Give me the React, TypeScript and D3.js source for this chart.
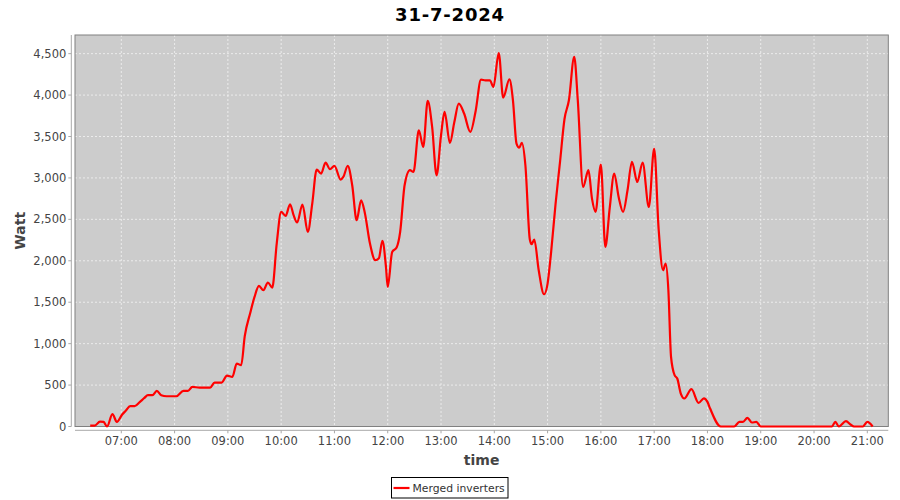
import React from "react";
import * as d3 from "d3";

const chartTitle = "31-7-2024";
const seriesName = "Merged inverters";
const yLabel = "Watt";
const xLabel = "time";

const times: string[] = [
  "06:25","06:30","06:36","06:40","06:44","06:50","06:55","07:01","07:05","07:10",
  "07:15","07:21","07:26","07:30","07:35","07:40","07:45","07:51","08:02","08:10",
  "08:15","08:20","08:28","08:40","08:45","08:53","08:59","09:05","09:10","09:15",
  "09:19","09:25","09:30","09:35","09:40","09:45","09:50","09:55","10:00","10:05",
  "10:10","10:14","10:18","10:24","10:30","10:35","10:40","10:45","10:50","10:55",
  "11:00","11:07","11:10","11:15","11:20","11:25","11:30","11:34","11:40","11:46",
  "11:50","11:54","11:58","12:00","12:05","12:10","12:14","12:19","12:25","12:29",
  "12:35","12:40","12:45","12:50","12:55","13:00","13:04","13:10","13:15","13:20",
  "13:26","13:33","13:39","13:45","13:50","13:55","13:59","14:05","14:10","14:17",
  "14:21","14:25","14:28","14:31","14:35","14:40","14:42","14:45","14:50","14:56",
  "15:00","15:04","15:09","15:14","15:19","15:24","15:30","15:34","15:40","15:46",
  "15:50","15:54","16:00","16:05","16:10","16:15","16:20","16:25","16:30","16:35",
  "16:41","16:47","16:54","17:00","17:05","17:10","17:13","17:16","17:19","17:23",
  "17:26","17:30","17:34","17:42","17:50","17:56","18:00","18:03","18:15","18:30",
  "18:36","18:40","18:45","18:50","18:55","19:00","20:20","20:24","20:28","20:36",
  "20:41","20:45","20:55","21:00","21:06"
];

const watts: number[] = [
  10,10,60,55,0,150,55,145,190,245,
  245,297,345,378,378,430,378,365,365,430,
  430,478,470,470,530,530,615,600,760,740,
  1090,1363,1564,1697,1645,1738,1677,2208,2590,2541,
  2682,2550,2462,2679,2348,2690,3101,3053,3185,3105,
  3145,2980,3012,3145,2912,2489,2730,2590,2208,2007,
  2030,2240,1926,1684,2107,2160,2348,2912,3093,3072,
  3575,3374,3929,3615,3032,3515,3796,3422,3675,3897,
  3777,3555,3808,4187,4178,4178,4098,4508,3970,4190,
  3937,3415,3366,3422,3153,2256,2200,2256,1886,1596,
  1725,2107,2690,3193,3708,3937,4460,3937,2891,3093,
  2750,2590,3161,2167,2642,3053,2770,2590,2851,3193,
  2951,3185,2650,3354,2389,1886,1967,1645,840,619,
  579,398,338,450,285,340,297,217,0,0,
  55,55,104,48,55,0,0,55,0,64,
  24,0,0,55,0
];

const xTickHours: number[] = [7,8,9,10,11,12,13,14,15,16,17,18,19,20,21];
const yTicks: number[] = [0,500,1000,1500,2000,2500,3000,3500,4000,4500];

const toHours = (s: string) => {
  const [h, m] = s.split(":").map(Number);
  return h + m / 60;
};

export default function App() {
  const W = 900, H = 500;
  const left = 75, right = 888.3, top = 35, bottom = 426.5;
  const x = d3.scaleLinear().domain([6.131, 21.394]).range([left, right]);
  const y = d3.scaleLinear().domain([0, 4725]).range([bottom, top]);
  const data = times.map((t, i) => ({ h: toHours(t), v: watts[i] }));
  const line = d3.line<{ h: number; v: number }>()
    .x(d => x(d.h))
    .y(d => y(d.v))
    .curve(d3.curveMonotoneX);
  const fmtY = d3.format(",");
  const fmtX = (h: number) => `${String(h).padStart(2, "0")}:00`;
  const font = "'DejaVu Sans', sans-serif";
  const yAxisX = 71.3, xAxisY = 430.3;

  return (
    <svg width={W} height={H} style={{ position: "absolute", left: 0, top: 0, background: "#fff" }}
      fontFamily={font}>
      <text x={450} y={21} textAnchor="middle" fontSize={18} fontWeight="bold" letterSpacing={0.8} fill="#000">{chartTitle}</text>
      <rect x={left} y={top} width={right - left} height={bottom - top} fill="#cccccc" />
      {xTickHours.map(h => (
        <line key={"gx" + h} x1={x(h)} x2={x(h)} y1={top} y2={bottom} stroke="#f4f4f4" strokeWidth={0.8} strokeDasharray="2,2" />
      ))}
      {yTicks.map(v => (
        <line key={"gy" + v} x1={left} x2={right} y1={y(v)} y2={y(v)} stroke="#f4f4f4" strokeWidth={0.8} strokeDasharray="2,2" />
      ))}
      <rect x={left} y={top} width={right - left} height={bottom - top} fill="none" stroke="#808080" strokeWidth={1} />
      <path d={line(data) || ""} fill="none" stroke="#ff0000" strokeWidth={2.2} strokeLinejoin="round" />
      {/* y axis */}
      <line x1={yAxisX} x2={yAxisX} y1={top} y2={bottom} stroke="#a8a8a8" strokeWidth={1} />
      {yTicks.map(v => (
        <g key={"ty" + v}>
          <line x1={yAxisX - 3} x2={yAxisX} y1={y(v)} y2={y(v)} stroke="#a8a8a8" />
          <text x={yAxisX - 5} y={y(v) + 4} textAnchor="end" fontSize={11.5} fill="#444">{fmtY(v)}</text>
        </g>
      ))}
      {/* x axis */}
      <line x1={left} x2={right} y1={xAxisY} y2={xAxisY} stroke="#a8a8a8" strokeWidth={1} />
      {xTickHours.map(h => (
        <g key={"tx" + h}>
          <line x1={x(h)} x2={x(h)} y1={xAxisY} y2={xAxisY + 3} stroke="#a8a8a8" />
          <text x={x(h)} y={xAxisY + 15} textAnchor="middle" fontSize={11.5} fill="#444">{fmtX(h)}</text>
        </g>
      ))}
      <text x={(left + right) / 2} y={465} textAnchor="middle" fontSize={14} fontWeight="bold" fill="#444">{xLabel}</text>
      <text transform={`translate(25,${(top + bottom) / 2}) rotate(-90)`} textAnchor="middle" fontSize={14} fontWeight="bold" fill="#444">{yLabel}</text>
      {/* legend */}
      <rect x={391.5} y={477.5} width={116.5} height={20.5} fill="#fff" stroke="#000" strokeWidth={1} />
      <line x1={393.5} x2={409.5} y1={488} y2={488} stroke="#ff0000" strokeWidth={2.2} />
      <text x={412.5} y={492} fontSize={10.8} fill="#333">{seriesName}</text>
    </svg>
  );
}
